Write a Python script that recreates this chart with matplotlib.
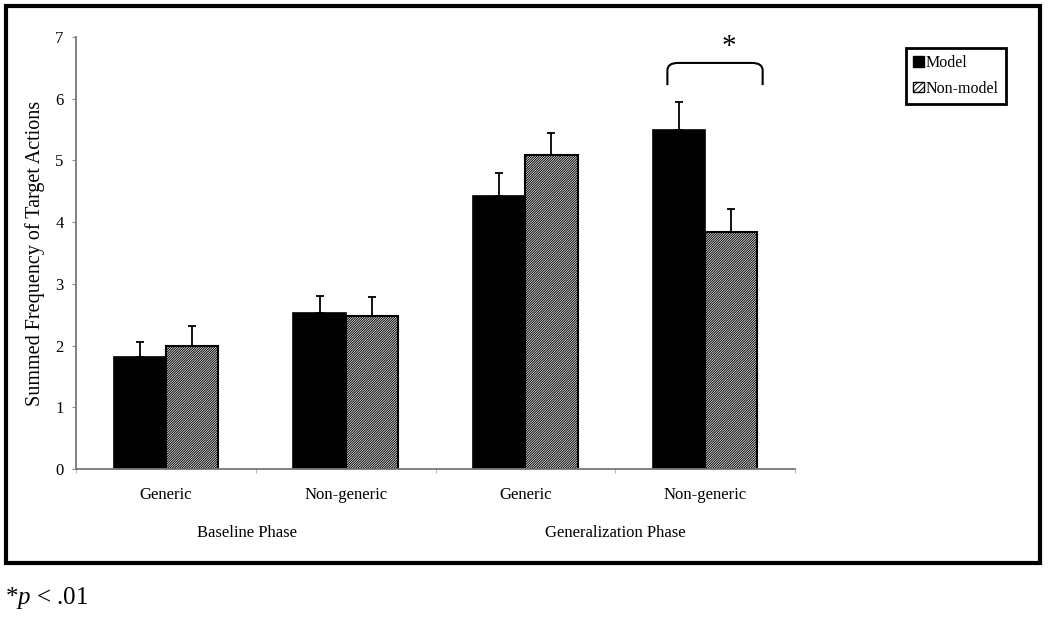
import matplotlib
matplotlib.use("Agg")
import matplotlib.pyplot as plt
from matplotlib.patches import Rectangle, PathPatch, Patch
from matplotlib.path import Path
import numpy as np

plt.rcParams['font.family'] = ['Liberation Serif', 'DejaVu Serif']
plt.rcParams['mathtext.fontset'] = 'custom'
plt.rcParams['mathtext.rm'] = 'Liberation Serif'
plt.rcParams['mathtext.it'] = 'Liberation Serif:italic'
plt.rcParams['hatch.linewidth'] = 0.7
plt.rcParams['hatch.color'] = '#333333'

categories = ["Generic", "Non-generic", "Generic", "Non-generic"]
phases = ["Baseline Phase", "Generalization Phase"]
model_vals = [1.81, 2.53, 4.43, 5.49]
model_err = [0.25, 0.27, 0.37, 0.45]
nonmodel_vals = [2.00, 2.48, 5.08, 3.84]
nonmodel_err = [0.31, 0.31, 0.36, 0.37]
series = ["Model", "Non-model"]
yticks = [0, 1, 2, 3, 4, 5, 6, 7]

fig = plt.figure(figsize=(10.5, 6.27), dpi=100)
W, H = 1050, 627
ax = fig.add_axes([76 / W, 1 - 469 / H, (795 - 76) / W, (469 - 37) / H])

x = np.arange(len(categories))
bw = 0.29
HATCH = '/' * 14
ax.bar(x - bw / 2, model_vals, bw, color='black', edgecolor='black', linewidth=1.2, zorder=2)
ax.bar(x + bw / 2, nonmodel_vals, bw, color='white', edgecolor='black', linewidth=1.5,
       hatch=HATCH, zorder=2)
ax.errorbar(x - bw / 2, model_vals, yerr=[np.zeros(4), model_err], fmt='none',
            ecolor='black', elinewidth=1.3, capsize=3, capthick=1.3, zorder=3)
ax.errorbar(x + bw / 2, nonmodel_vals, yerr=[np.zeros(4), nonmodel_err], fmt='none',
            ecolor='black', elinewidth=1.3, capsize=3, capthick=1.3, zorder=3)

ax.set_xlim(-0.5, 3.5)
ax.set_ylim(0, 7)
ax.set_yticks(yticks)
ax.set_yticklabels([str(v) for v in yticks], fontsize=12)
ax.set_xticks([-0.5, 0.5, 1.5, 2.5, 3.5])
ax.set_xticklabels([])
ax.tick_params(axis='x', length=3, color='#bbbbbb', direction='out')
ax.tick_params(axis='y', length=3, color='#888888', direction='out', pad=6)
for s in ['top', 'right']:
    ax.spines[s].set_visible(False)
for s in ['left', 'bottom']:
    ax.spines[s].set_color('#777777')
    ax.spines[s].set_linewidth(1.3)

for xi, lab in zip(x, categories):
    ax.text(xi, -0.42, lab, ha='center', va='center', fontsize=12)
ax.text(0.45, -1.04, phases[0], ha='center', va='center', fontsize=12)
ax.text(2.5, -1.04, phases[1], ha='center', va='center', fontsize=12)

ax.set_ylabel("Summed Frequency of Target Actions", fontsize=14.5, labelpad=7)

# significance bracket
x0, x1, ytop, ybot = 2.79, 3.32, 6.58, 6.22
r = 0.06
verts = [(x0, ybot), (x0, ytop - 0.12), (x0, ytop), (x0 + r, ytop),
         (x1 - r, ytop), (x1, ytop), (x1, ytop - 0.12), (x1, ybot)]
codes = [Path.MOVETO, Path.LINETO, Path.CURVE3, Path.CURVE3,
         Path.LINETO, Path.CURVE3, Path.CURVE3, Path.LINETO]
ax.add_patch(PathPatch(Path(verts, codes), fill=False, lw=1.5, edgecolor='black',
                       clip_on=False))
ax.text(3.13, 6.84, "*", ha='center', va='center', fontsize=21)

handles = [Patch(facecolor='black', edgecolor='black'),
           Patch(facecolor='white', edgecolor='black', hatch='//////')]
leg = fig.legend(handles, series, loc='upper left',
                 bbox_to_anchor=(906 / W, 1 - 48 / H), fontsize=11.5,
                 handlelength=0.65, handleheight=0.65, handletextpad=0.15,
                 borderpad=0.45, labelspacing=0.6, fancybox=False, framealpha=1,
                 borderaxespad=0)
leg.get_frame().set_edgecolor('black')
leg.get_frame().set_linewidth(2)

# outer frame
fig.patches.append(Rectangle((6 / W, 1 - 563 / H), (1040 - 6) / W, (563 - 6) / H,
                             transform=fig.transFigure, fill=False, lw=3,
                             edgecolor='black'))

fig.text(5 / W, 1 - 598 / H, r"*$p$ < .01", ha='left', va='center', fontsize=18)

fig.savefig("out.png", dpi=100)
